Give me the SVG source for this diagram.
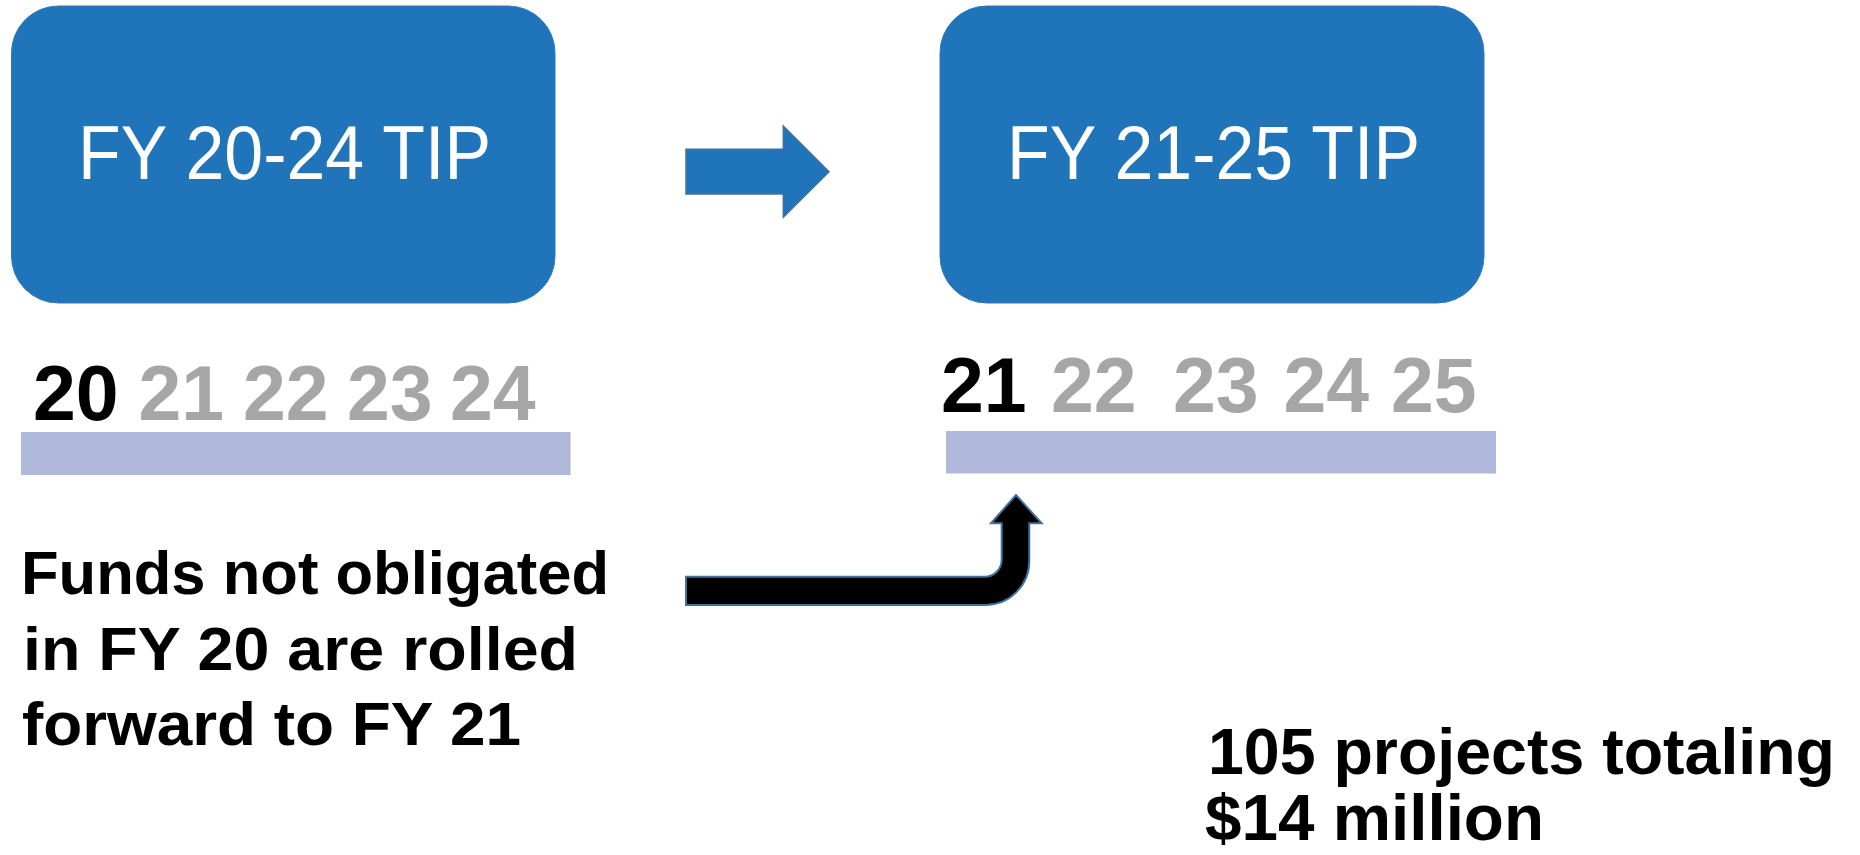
<svg xmlns="http://www.w3.org/2000/svg" width="1860" height="855" viewBox="0 0 1860 855">
<style>
.box{fill:#1F74BA;stroke:#2E7BC0;stroke-width:1}
.boxt{font-family:"Liberation Sans",Arial,sans-serif;font-size:76px;fill:#FFFFFF}
.yr{font-family:"Liberation Sans",Arial,sans-serif;font-weight:bold;font-size:77px}
.cur{fill:#000000}
.oth{fill:#A6A6A6}
.bar{fill:#B0B8DC}
.para{font-family:"Liberation Sans",Arial,sans-serif;font-weight:bold;font-size:61px;fill:#000000}
.para2{font-family:"Liberation Sans",Arial,sans-serif;font-weight:bold;font-size:65px;fill:#000000}
</style>
<rect width="1860" height="855" fill="#FFFFFF"/>
<g id="tip-2024">
<rect class="box" x="11.5" y="6" width="543.5" height="297" rx="47" ry="47"/>
<text class="boxt" x="78" y="178.5" textLength="413" lengthAdjust="spacingAndGlyphs">FY 20-24 TIP</text>
</g>
<g id="tip-2125">
<rect class="box" x="940" y="6" width="544" height="297" rx="47" ry="47"/>
<text class="boxt" x="1007" y="178.5" textLength="413" lengthAdjust="spacingAndGlyphs">FY 21-25 TIP</text>
</g>
<g id="years-2024">
<text class="yr cur" x="33" y="420">20</text>
<text class="yr oth" x="138.5" y="420">21</text>
<text class="yr oth" x="243" y="420">22</text>
<text class="yr oth" x="347" y="420">23</text>
<text class="yr oth" x="450" y="420">24</text>
<rect class="bar" x="21" y="432" width="549.5" height="43"/>
</g>
<g id="years-2125">
<text class="yr cur" x="941" y="411.7">21</text>
<text class="yr oth" x="1051" y="411.7">22</text>
<text class="yr oth" x="1173" y="411.7">23</text>
<text class="yr oth" x="1283.5" y="411.7">24</text>
<text class="yr oth" x="1391" y="411.7">25</text>
<rect class="bar" x="946" y="431" width="550" height="42.5"/>
</g>
<g id="note-rollover">
<text class="para" x="21" y="594" textLength="588" lengthAdjust="spacingAndGlyphs">Funds not obligated</text>
<text class="para" x="23" y="670" textLength="555" lengthAdjust="spacingAndGlyphs">in FY 20 are rolled</text>
<text class="para" x="22" y="745" textLength="499" lengthAdjust="spacingAndGlyphs">forward to FY 21</text>
</g>
<g id="note-total">
<text class="para2" x="1208" y="774" textLength="627" lengthAdjust="spacingAndGlyphs">105 projects totaling</text>
<text class="para2" x="1205" y="840" textLength="339" lengthAdjust="spacingAndGlyphs">$14 million</text>
</g>
<g id="connectors">
<path d="M686,149.3 H783.3 V126 L829,171.7 L783.3,217.3 V194 H686 Z" fill="#1F74BA" stroke="#41719C" stroke-width="1.5"/>
<path d="M686,576.7 H984 A17,17 0 0 0 1001.7,559.7 V523.3 H991 L1016,495 L1041.7,523.3 H1029.3 V561 A44,44 0 0 1 985.3,605 H686 Z" fill="#000000" stroke="#41719C" stroke-width="2"/>
</g>
</svg>
